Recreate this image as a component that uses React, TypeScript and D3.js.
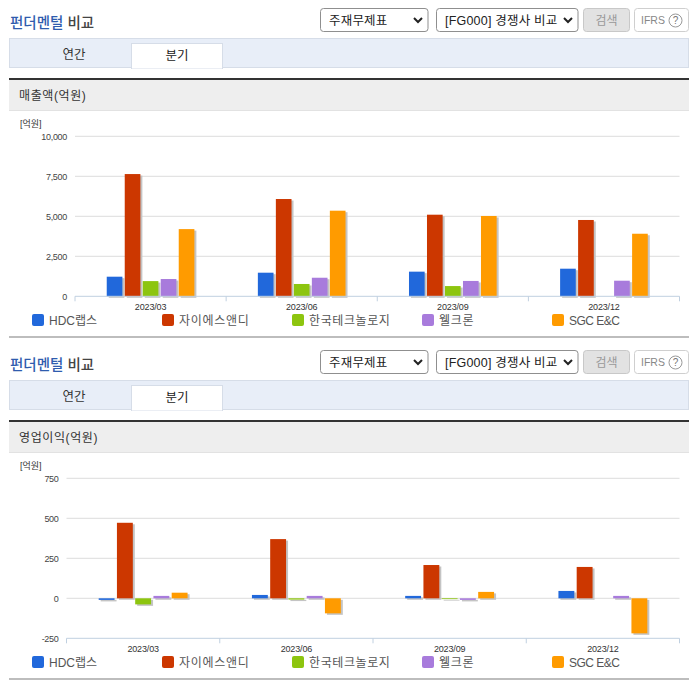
import { useEffect, useRef } from "react";
import * as d3 from "d3";

const QUARTERS = ["2023/03", "2023/06", "2023/09", "2023/12"];
const COMPANIES = ["HDC랩스", "자이에스앤디", "한국테크놀로지", "웰크론", "SGC E&C"];
const COLORS = ["#2168db", "#cc3700", "#8dc50f", "#a87bdc", "#ff9b00"];
const LEGEND_X = [32, 162, 292, 422, 552];
const LEGEND_SPACING = [0, 0.7, 0.6, 0.7, -0.5];

// one array per company, in quarter order. null = no bar
const REVENUE: (number | null)[][] = [
  [1225, 1475, 1540, 1725],
  [7640, 6080, 5100, 4770],
  [950, 770, 640, null],
  [1080, 1160, 960, 975],
  [4200, 5350, 5020, 3910],
];
const REVENUE_TICKS = [0, 2500, 5000, 7500, 10000];

const PROFIT: (number | null)[][] = [
  [-10, 21, 15, 46],
  [472, 370, 208, 196],
  [-38, -8, -5, null],
  [15, 15, -10, 15],
  [35, -94, 40, -219],
];
const PROFIT_TICKS = [-250, 0, 250, 500, 750];

const FONT = "'Liberation Sans', 'Noto Sans CJK KR', sans-serif";
const W = 696;
const H = 684;

type Sel = d3.Selection<SVGGElement, unknown, null, undefined>;

// plain hyphen for negatives, d3.format would give a real minus sign
const formatTick = d3.formatLocale({
  decimal: ".",
  thousands: ",",
  grouping: [3],
  currency: ["", ""],
  minus: "-",
}).format(",");

function drawHeader(g: Sel, label: string) {
  const title = g
    .append("text")
    .attr("x", 10)
    .attr("y", 28)
    .attr("font-size", 14.5)
    .attr("font-weight", 500);
  title.append("tspan").attr("fill", "#2f5cae").text("펀더멘털");
  title.append("tspan").attr("fill", "#444").text(" 비교");

  // selects
  const selects = [
    { x: 320.5, w: 107.5, text: "주재무제표", tx: 329 },
    { x: 436.5, w: 141.5, text: "[FG000] 경쟁사 비교", tx: 445 },
  ];
  selects.forEach((s) => {
    g.append("rect")
      .attr("x", s.x)
      .attr("y", 8.5)
      .attr("width", s.w)
      .attr("height", 23)
      .attr("rx", 3)
      .attr("fill", "#fff")
      .attr("stroke", "#8f8f8f");
    g.append("text")
      .attr("x", s.tx)
      .attr("y", 25)
      .attr("font-size", 12.5)
      .attr("letter-spacing", 0.2)
      .attr("fill", "#222")
      .text(s.text);
    const ax = s.x + s.w - 10;
    g.append("path")
      .attr("d", `M${ax - 4},18 L${ax},22 L${ax + 4},18`)
      .attr("fill", "none")
      .attr("stroke", "#222")
      .attr("stroke-width", 2);
  });

  g.append("rect")
    .attr("x", 583.5)
    .attr("y", 8.5)
    .attr("width", 46)
    .attr("height", 23)
    .attr("rx", 3)
    .attr("fill", "#e2e2e2")
    .attr("stroke", "#c8c8c8");
  g.append("text")
    .attr("x", 606.5)
    .attr("y", 24.5)
    .attr("text-anchor", "middle")
    .attr("font-size", 12)
    .attr("fill", "#999")
    .text("검색");

  g.append("rect")
    .attr("x", 634.5)
    .attr("y", 8.5)
    .attr("width", 54)
    .attr("height", 23)
    .attr("rx", 3)
    .attr("fill", "#fff")
    .attr("stroke", "#cfcfcf");
  g.append("text")
    .attr("x", 641)
    .attr("y", 24)
    .attr("font-size", 10.5)
    .attr("fill", "#888")
    .text("IFRS");
  g.append("circle")
    .attr("cx", 675.5)
    .attr("cy", 20.5)
    .attr("r", 6.5)
    .attr("fill", "#fff")
    .attr("stroke", "#999");
  g.append("text")
    .attr("x", 675.5)
    .attr("y", 24)
    .attr("text-anchor", "middle")
    .attr("font-size", 10)
    .attr("fill", "#777")
    .text("?");

  // tabs
  g.append("rect")
    .attr("x", 9.5)
    .attr("y", 38.5)
    .attr("width", 679)
    .attr("height", 29)
    .attr("fill", "#e8eef8")
    .attr("stroke", "#d6dde8");
  g.append("rect")
    .attr("x", 131.5)
    .attr("y", 43.5)
    .attr("width", 91)
    .attr("height", 25)
    .attr("fill", "#fff")
    .attr("stroke", "#d6dde8");
  g.append("line")
    .attr("x1", 132)
    .attr("x2", 222)
    .attr("y1", 68)
    .attr("y2", 68)
    .attr("stroke", "#fff");
  g.append("text")
    .attr("x", 74)
    .attr("y", 59)
    .attr("text-anchor", "middle")
    .attr("font-size", 12.5)
    .attr("fill", "#333")
    .text("연간");
  g.append("text")
    .attr("x", 177)
    .attr("y", 60)
    .attr("text-anchor", "middle")
    .attr("font-size", 12.5)
    .attr("fill", "#222")
    .text("분기");

  // section band
  g.append("rect")
    .attr("x", 9)
    .attr("y", 80)
    .attr("width", 680)
    .attr("height", 30)
    .attr("fill", "#eeeeee");
  g.append("rect")
    .attr("x", 9)
    .attr("y", 78)
    .attr("width", 680)
    .attr("height", 2)
    .attr("fill", "#333");
  g.append("line")
    .attr("x1", 9)
    .attr("x2", 689)
    .attr("y1", 110.5)
    .attr("y2", 110.5)
    .attr("stroke", "#e2e2e2");
  g.append("text")
    .attr("x", 19)
    .attr("y", 100)
    .attr("font-size", 12)
    .attr("letter-spacing", 0.6)
    .attr("fill", "#333")
    .text(label);
  g.append("text")
    .attr("x", 20)
    .attr("y", 126.5)
    .attr("font-size", 9)
    .attr("fill", "#333")
    .text("[억원]");
}

function drawChart(
  g: Sel,
  values: (number | null)[][],
  ticks: number[],
  left: number,
) {
  const right = 679.5;
  const x = d3.scaleBand<string>().domain(QUARTERS).range([left, right]);
  const bw = x.bandwidth();
  const inner = d3
    .scaleBand<string>()
    .domain(COMPANIES)
    .range([bw * 0.21, bw * 0.79])
    .paddingInner(0.13);
  const y = d3
    .scaleLinear()
    .domain([ticks[0], ticks[ticks.length - 1]])
    .range([296.3, 136.3]);

  // grid
  g.append("g")
    .selectAll("line")
    .data(ticks.slice(1))
    .join("line")
    .attr("x1", left)
    .attr("x2", right)
    .attr("y1", (d) => y(d))
    .attr("y2", (d) => y(d))
    .attr("stroke", "#dcdcdc");

  // y labels
  g.append("g")
    .selectAll("text")
    .data(ticks)
    .join("text")
    .attr("x", left - 8)
    .attr("y", (d) => y(d) + 3.5)
    .attr("text-anchor", "end")
    .attr("font-size", 9)
    .attr("letter-spacing", -0.3)
    .attr("fill", "#444")
    .text((d) => formatTick(d));

  // bars with the soft offset shadow
  COMPANIES.forEach((name, i) => {
    const rows = QUARTERS.map((q, k) => ({ q, v: values[i][k] })).filter(
      (d) => d.v !== null,
    ) as { q: string; v: number }[];
    const barX = (d: { q: string }) => x(d.q)! + inner(name)!;
    const barY = (d: { v: number }) => Math.min(y(d.v), y(0));
    const barH = (d: { v: number }) => Math.abs(y(d.v) - y(0));

    g.append("g")
      .selectAll("rect")
      .data(rows)
      .join("rect")
      .attr("x", (d) => barX(d) + 2)
      .attr("y", (d) => barY(d) + 1.5)
      .attr("width", inner.bandwidth())
      .attr("height", barH)
      .attr("fill", "#c4c4c4")
      .attr("filter", "url(#barShadow)");
    g.append("g")
      .selectAll("rect")
      .data(rows)
      .join("rect")
      .attr("x", barX)
      .attr("y", barY)
      .attr("width", inner.bandwidth())
      .attr("height", barH)
      .attr("fill", COLORS[i]);
  });

  // x axis
  const axisY = y(ticks[0]);
  const edges = [...QUARTERS.map((q) => x(q)!), right];
  g.append("line")
    .attr("x1", left)
    .attr("x2", right)
    .attr("y1", axisY)
    .attr("y2", axisY)
    .attr("stroke", "#c0d0e0");
  g.append("g")
    .selectAll("line")
    .data(edges)
    .join("line")
    .attr("x1", (d) => d)
    .attr("x2", (d) => d)
    .attr("y1", axisY)
    .attr("y2", axisY + 5)
    .attr("stroke", "#c0d0e0");
  g.append("g")
    .selectAll("text")
    .data(QUARTERS)
    .join("text")
    .attr("x", (d) => x(d)! + bw / 2)
    .attr("y", axisY + 14)
    .attr("text-anchor", "middle")
    .attr("font-size", 9)
    .attr("letter-spacing", -0.15)
    .attr("fill", "#333")
    .text((d) => d);

  // legend
  COMPANIES.forEach((name, i) => {
    g.append("rect")
      .attr("x", LEGEND_X[i])
      .attr("y", 314)
      .attr("width", 12)
      .attr("height", 12)
      .attr("rx", 2)
      .attr("fill", COLORS[i]);
    g.append("text")
      .attr("x", LEGEND_X[i] + 17)
      .attr("y", 324.5)
      .attr("font-size", 12)
      .attr("letter-spacing", LEGEND_SPACING[i])
      .attr("fill", "#555")
      .text(name);
  });

  g.append("rect")
    .attr("x", 9)
    .attr("y", 336)
    .attr("width", 680)
    .attr("height", 2)
    .attr("fill", "#bdbdbd");
}

export default function App() {
  const svgRef = useRef<SVGSVGElement>(null);

  useEffect(() => {
    if (!svgRef.current) return;
    const svg = d3.select(svgRef.current);
    svg.selectAll("*").remove();

    svg
      .append("defs")
      .append("filter")
      .attr("id", "barShadow")
      .append("feGaussianBlur")
      .attr("stdDeviation", 0.5);

    const top = svg.append("g") as unknown as Sel;
    drawHeader(top, "매출액(억원)");
    drawChart(top, REVENUE, REVENUE_TICKS, 75);

    const bottom = svg
      .append("g")
      .attr("transform", "translate(0,342)") as unknown as Sel;
    drawHeader(bottom, "영업이익(억원)");
    drawChart(bottom, PROFIT, PROFIT_TICKS, 66.5);
  }, []);

  return (
    <svg
      ref={svgRef}
      width={W}
      height={H}
      style={{
        position: "absolute",
        left: 0,
        top: 0,
        background: "#fff",
        fontFamily: FONT,
      }}
    />
  );
}
